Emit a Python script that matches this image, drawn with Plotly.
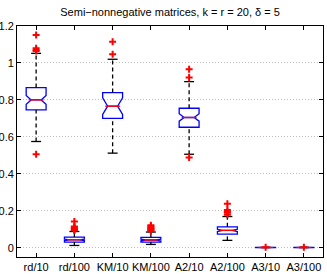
import plotly.graph_objects as go

categories = ["rd/10", "rd/100", "KM/10", "KM/100", "A2/10", "A2/100", "A3/10", "A3/100"]
q1_vals = [0.746, 0.031, 0.700, 0.031, 0.652, 0.074, 0.001, 0.001]
median_vals = [0.800, 0.043, 0.766, 0.042, 0.705, 0.094, 0.0015, 0.0015]
q3_vals = [0.867, 0.058, 0.840, 0.056, 0.755, 0.1135, 0.002, 0.002]
lower_whisker = [0.575, 0.0125, 0.512, 0.018, 0.506, 0.040, 0.001, 0.001]
upper_whisker = [1.052, 0.088, 1.020, 0.085, 0.899, 0.169, 0.002, 0.002]
notch_half = [0.024, 0.004, 0.045, 0.004, 0.02, 0.006, 0.0, 0.0]
outliers = [
    [1.151, 1.08, 1.07, 1.065, 0.506],
    [0.142, 0.115, 0.11, 0.105, 0.10, 0.097, 0.094],
    [1.115, 1.047],
    [0.122, 0.116, 0.11, 0.105, 0.10, 0.095, 0.091],
    [0.966, 0.921, 0.488],
    [0.238, 0.205, 0.195, 0.19, 0.178],
    [0.003],
    [0.003],
]
y_ticks = [0, 0.2, 0.4, 0.6, 0.8, 1.0, 1.2]
y_ticktext = ["0", "0.2", "0.4", "0.6", "0.8", "1", "1.2"]

pos = list(range(1, len(categories) + 1))
box_w = 0.52
notch_w = 0.25
cap_half = 0.13

fig = go.Figure()

# whiskers (dashed black)
wx, wy = [], []
for p, lo, q1, q3, hi in zip(pos, lower_whisker, q1_vals, q3_vals, upper_whisker):
    wx += [p, p, None, p, p, None]
    wy += [q3, hi, None, lo, q1, None]
fig.add_trace(go.Scatter(x=wx, y=wy, mode="lines", line=dict(color="black", width=1.3, dash="4px,3px"),
                         hoverinfo="skip", showlegend=False))
# caps
cx, cy = [], []
for p, lo, hi in zip(pos, lower_whisker, upper_whisker):
    cx += [p - cap_half, p + cap_half, None, p - cap_half, p + cap_half, None]
    cy += [hi, hi, None, lo, lo, None]
fig.add_trace(go.Scatter(x=cx, y=cy, mode="lines", line=dict(color="black", width=1.3),
                         hoverinfo="skip", showlegend=False))

# boxes
fig.add_trace(go.Box(
    x=pos, q1=q1_vals, median=median_vals, q3=q3_vals,
    lowerfence=q1_vals, upperfence=q3_vals,
    notched=True, notchspan=[max(n, 1e-6) for n in notch_half], notchwidth=notch_w,
    width=box_w, whiskerwidth=0,
    line=dict(color="rgb(0,0,255)", width=1.3), fillcolor="rgba(0,0,0,0)",
    hoverinfo="skip", showlegend=False,
))

# medians (red)
mx, my = [], []
mh = box_w / 2 * (1 - notch_w)
for p, m in zip(pos, median_vals):
    mx += [p - mh, p + mh, None]
    my += [m, m, None]
fig.add_trace(go.Scatter(x=mx, y=my, mode="lines", line=dict(color="red", width=1.3),
                         hoverinfo="skip", showlegend=False))

# outliers
ox, oy = [], []
for p, outs in zip(pos, outliers):
    for v in outs:
        ox.append(p)
        oy.append(v)
fig.add_trace(go.Scatter(x=ox, y=oy, mode="markers",
                         marker=dict(symbol="cross-thin", size=5, color="red",
                                     line=dict(color="red", width=2)),
                         hoverinfo="skip", showlegend=False))

font_family = "Liberation Sans, Arial, sans-serif"
fig.update_layout(
    width=327, height=274,
    margin=dict(l=17, r=4, t=26, b=17, autoexpand=False),
    paper_bgcolor="white", plot_bgcolor="white",
    font=dict(family=font_family, size=11, color="black"),
    title=dict(text="Semi\u2212nonnegative matrices, k = r = 20, \u03b4 = 5",
               x=0.52, xanchor="center", y=0.955, yanchor="middle",
               font=dict(size=11, family=font_family, color="black")),
    xaxis=dict(range=[0.5, 8.5], tickmode="array", tickvals=pos, ticktext=categories,
               showgrid=False, zeroline=False, showline=True, linecolor="black", linewidth=1,
               mirror="ticks", ticks="inside", ticklen=4, tickcolor="black",
               tickfont=dict(size=11), automargin=False),
    yaxis=dict(range=[-0.05, 1.2], tickmode="array", tickvals=y_ticks, ticktext=y_ticktext,
               showgrid=True, gridcolor="#bdbdbd", griddash="1px,2px", gridwidth=1,
               zeroline=False, showline=True, linecolor="black", linewidth=1,
               mirror="ticks", ticks="inside", ticklen=4, tickcolor="black",
               tickfont=dict(size=11), automargin=False),
)

fig.write_html("out.html", config={"displayModeBar": False, "staticPlot": True},
               post_script="document.body.style.margin='0';document.body.style.overflow='hidden';")
